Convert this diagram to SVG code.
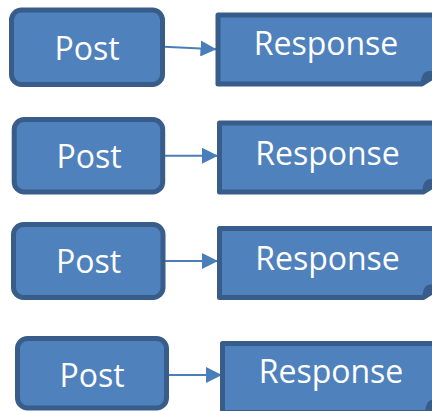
<svg xmlns="http://www.w3.org/2000/svg" width="432" height="411" viewBox="0 0 432 411">
  <style>
    .post { fill: #4F81BD; stroke: #385D8A; stroke-width: 5; }
    .resp { fill: #4F81BD; stroke: #385D8A; stroke-width: 5; stroke-linejoin: round; }
    .fold { fill: #385D8A; }
    .label { font-family: "Open Sans", "Liberation Sans", sans-serif; font-size: 32px; fill: #FFFFFF; text-anchor: middle; }
    .link { stroke: #4A7EBB; stroke-width: 2; fill: none; marker-end: url(#head); }
  </style>
  <defs>
    <marker id="head" markerUnits="userSpaceOnUse" markerWidth="16" markerHeight="16" refX="16" refY="8" orient="auto">
      <path d="M0,0 L16,8 L0,16 Z" fill="#4A7EBB"/>
    </marker>
    <!-- document shape with a turned-down bottom-right corner -->
    <g id="doc">
      <path class="resp" d="M0,0 H226 V55 L204,69 H0 Z"/>
      <path class="fold" d="M202,70 C204,62 204,56 212,56 L225,55 Z"/>
    </g>
  </defs>

  <g id="connectors">
    <line class="link" x1="164" y1="46.7" x2="216.5" y2="49.2"/>
    <line class="link" x1="165" y1="155.7" x2="218" y2="155.7"/>
    <line class="link" x1="165" y1="261" x2="218" y2="261"/>
    <line class="link" x1="169" y1="375" x2="222" y2="375"/>
  </g>

  <g id="post1">
    <rect class="post" x="11.5" y="10" width="151" height="74.5" rx="10"/>
    <text class="label" x="87" y="60">Post</text>
  </g>
  <g id="response1">
    <use href="#doc" transform="translate(218,15)"/>
    <text class="label" x="326" y="55">Response</text>
  </g>

  <g id="post2">
    <rect class="post" x="14.2" y="119.5" width="148.5" height="72.5" rx="10"/>
    <text class="label" x="89" y="168">Post</text>
  </g>
  <g id="response2">
    <use href="#doc" transform="translate(219.5,123)"/>
    <text class="label" x="327.5" y="165">Response</text>
  </g>

  <g id="post3">
    <rect class="post" x="13.5" y="224.5" width="149.5" height="73" rx="10"/>
    <text class="label" x="88.5" y="273">Post</text>
  </g>
  <g id="response3">
    <use href="#doc" transform="translate(219.5,228.5)"/>
    <text class="label" x="327.5" y="270">Response</text>
  </g>

  <g id="post4">
    <rect class="post" x="17.5" y="338.5" width="149" height="69.5" rx="10"/>
    <text class="label" x="92" y="387">Post</text>
  </g>
  <g id="response4">
    <use href="#doc" transform="translate(222.5,343.5)"/>
    <text class="label" x="331" y="383">Response</text>
  </g>
</svg>
